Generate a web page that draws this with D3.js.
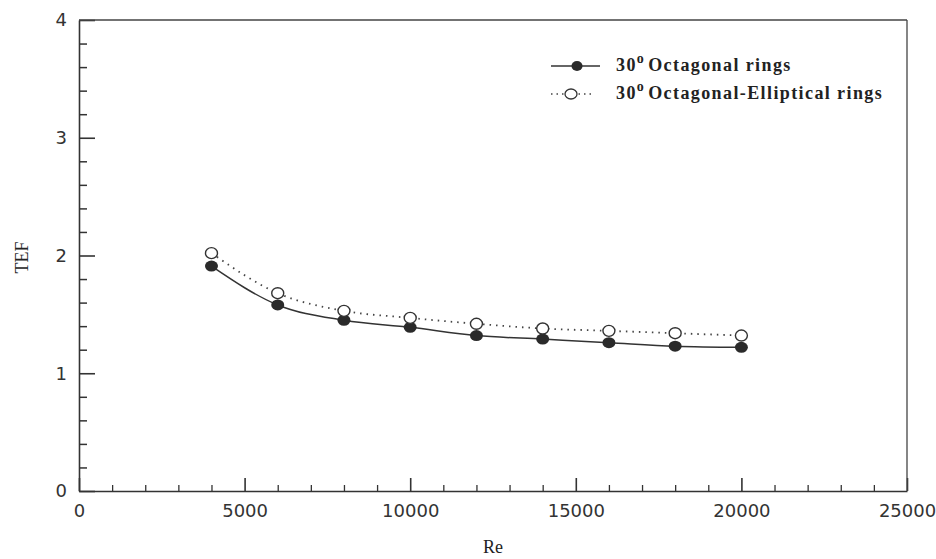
<!DOCTYPE html>
<html>
<head>
<meta charset="utf-8">
<script src="https://cdn.jsdelivr.net/npm/d3@7"></script>
<style>
  body { margin: 0; background: #fff; }
  .title { font-family: "Liberation Serif", serif; font-size: 18px; fill: #222; }
  .legend text { font-family: "Liberation Serif", serif; font-size: 18px; fill: #222; font-weight: bold; letter-spacing: 1.4px; }
  .ticklabel { font-family: "DejaVu Sans", sans-serif; font-size: 18px; fill: #333; }
</style>
</head>
<body>
<svg id="chart"></svg>
<script>
// Reynolds numbers
const reValues = [4000, 6000, 8000, 10000, 12000, 14000, 16000, 18000, 20000];
// TEF, 30 deg octagonal rings (filled markers, solid line)
const octagonal = [1.91, 1.58, 1.45, 1.39, 1.32, 1.29, 1.26, 1.23, 1.22];
// TEF, 30 deg octagonal-elliptical rings (open markers, dotted line)
const octElliptical = [2.02, 1.68, 1.53, 1.47, 1.42, 1.38, 1.36, 1.34, 1.32];

const xTicks = [0, 5000, 10000, 15000, 20000, 25000];
const yTicks = [0, 1, 2, 3, 4];
const seriesNames = ['Octagonal rings', 'Octagonal-Elliptical rings'];

const config = {
  width: 936, height: 559,
  margin: {top: 20, right: 29, bottom: 68, left: 79}
};

let svg = d3.select('#chart')
    .attr('width', config.width)
    .attr('height', config.height);

const w = config.width - config.margin.left - config.margin.right;
const h = config.height - config.margin.top - config.margin.bottom;

let chart = svg.append('g')
    .attr('transform', `translate(${config.margin.left},${config.margin.top})`);

const xScale = d3.scaleLinear().domain([0, 25000]).range([0, w]);
const yScale = d3.scaleLinear().domain([0, 4]).range([h, 0]);

// minor ticks first (inward)
const xMinor = d3.range(0, 25001, 1000).filter(d => d % 5000 !== 0);
const yMinor = d3.range(0, 4.001, 0.2).filter(d => Math.abs(d - Math.round(d)) > 0.01);

chart.append('g')
    .attr('transform', `translate(0,${h})`)
    .call(d3.axisBottom(xScale).tickValues(xMinor).tickSize(-6).tickFormat(''))
    .call(g => g.select('.domain').remove())
    .selectAll('line').attr('stroke', '#333').attr('stroke-width', 1.3);

chart.append('g')
    .call(d3.axisLeft(yScale).tickValues(yMinor).tickSize(-8).tickFormat(''))
    .call(g => g.select('.domain').remove())
    .selectAll('line').attr('stroke', '#333').attr('stroke-width', 1.5);

// major axes
let xAxisG = chart.append('g')
    .attr('transform', `translate(0,${h})`)
    .call(d3.axisBottom(xScale).tickValues(xTicks).tickSize(-13).tickSizeOuter(0).tickPadding(13).tickFormat(d3.format('d')));
xAxisG.select('.domain').attr('stroke', '#333').attr('stroke-width', 1.6);
xAxisG.selectAll('line').attr('stroke', '#333').attr('stroke-width', 1.6);

let yAxisG = chart.append('g')
    .call(d3.axisLeft(yScale).tickValues(yTicks).tickSize(-16).tickSizeOuter(0).tickPadding(12).tickFormat(d3.format('d')));
yAxisG.select('.domain').attr('stroke', '#333').attr('stroke-width', 1.6);
yAxisG.selectAll('line').attr('stroke', '#333').attr('stroke-width', 1.6);

xAxisG.selectAll('text').attr('class', 'ticklabel');
yAxisG.selectAll('text').attr('class', 'ticklabel');

// top and right frame
chart.append('line').attr('x1', 0).attr('x2', w).attr('y1', 0).attr('y2', 0)
    .attr('stroke', '#444').attr('stroke-width', 1.3);
chart.append('line').attr('x1', w).attr('x2', w).attr('y1', 0).attr('y2', h)
    .attr('stroke', '#444').attr('stroke-width', 1.3);

// axis titles
svg.append('text').attr('class', 'title')
    .attr('x', config.margin.left + w / 2).attr('y', 553)
    .attr('text-anchor', 'middle').text('Re');
svg.append('text').attr('class', 'title')
    .attr('transform', `translate(28,${config.margin.top + h / 2 + 2}) rotate(-90)`)
    .attr('text-anchor', 'middle').text('TEF');

const line = d3.line()
    .x(d => xScale(d[0]))
    .y(d => yScale(d[1]))
    .curve(d3.curveMonotoneX);

const octData = reValues.map((r, i) => [r, octagonal[i]]);
const ellData = reValues.map((r, i) => [r, octElliptical[i]]);

chart.append('path').datum(octData)
    .attr('d', line).attr('fill', 'none')
    .attr('stroke', '#333').attr('stroke-width', 1.5);
chart.append('path').datum(ellData)
    .attr('d', line).attr('fill', 'none')
    .attr('stroke', '#444').attr('stroke-width', 1.8)
    .attr('stroke-dasharray', '1.5,5');

chart.selectAll('.pt-oct').data(octData).join('ellipse')
    .attr('class', 'pt-oct')
    .attr('cx', d => xScale(d[0])).attr('cy', d => yScale(d[1]))
    .attr('rx', 6.5).attr('ry', 5.5)
    .attr('fill', '#2a2a2a');

chart.selectAll('.pt-ell').data(ellData).join('ellipse')
    .attr('class', 'pt-ell')
    .attr('cx', d => xScale(d[0])).attr('cy', d => yScale(d[1]))
    .attr('rx', 6).attr('ry', 5.5)
    .attr('fill', '#fff').attr('stroke', '#333').attr('stroke-width', 1.4);

// legend
let legend = svg.append('g').attr('class', 'legend');
const lx = 551, ly = [66, 94];

legend.append('line').attr('x1', lx).attr('x2', lx + 49).attr('y1', ly[0]).attr('y2', ly[0])
    .attr('stroke', '#333').attr('stroke-width', 1.5);
legend.append('ellipse').attr('cx', lx + 26).attr('cy', ly[0]).attr('rx', 5.5).attr('ry', 5)
    .attr('fill', '#2a2a2a');
legend.append('line').attr('x1', lx).attr('x2', lx + 44).attr('y1', ly[1]).attr('y2', ly[1])
    .attr('stroke', '#444').attr('stroke-width', 1.6).attr('stroke-dasharray', '1.5,4');
legend.append('ellipse').attr('cx', lx + 20).attr('cy', ly[1]).attr('rx', 6).attr('ry', 5)
    .attr('fill', '#fff').attr('stroke', '#333').attr('stroke-width', 1.3);

seriesNames.forEach((name, i) => {
  let t = legend.append('text').attr('x', 616).attr('y', ly[i] + 5);
  t.append('tspan').text('30');
  t.append('tspan').attr('dy', -8).attr('font-size', 14).text('o');
  t.append('tspan').attr('dy', 8).attr('dx', 3).text(name);
});
</script>
</body>
</html>
